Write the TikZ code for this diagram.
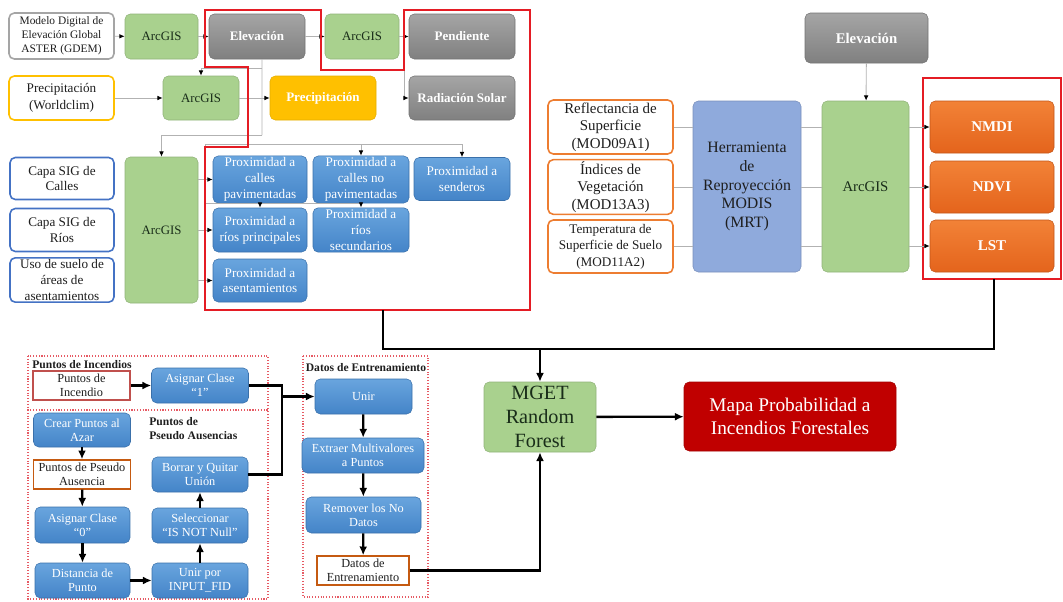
\documentclass[tikz,border=0pt]{standalone}
\usepackage{fontspec}
\setmainfont{Liberation Serif}
\usetikzlibrary{arrows.meta,calc}
\definecolor{arcgreen}{RGB}{169,209,142}
\definecolor{arctext}{RGB}{25,45,25}
\definecolor{grayT}{RGB}{165,165,165}
\definecolor{grayB}{RGB}{128,128,128}
\definecolor{precipY}{RGB}{255,192,0}
\definecolor{blueT}{RGB}{105,165,222}
\definecolor{blueB}{RGB}{68,132,200}
\definecolor{orangeT}{RGB}{242,130,55}
\definecolor{orangeB}{RGB}{228,100,28}
\definecolor{mrtblue}{RGB}{143,170,220}
\definecolor{mapred}{RGB}{192,0,0}
\definecolor{redline}{RGB}{228,28,36}
\definecolor{capablue}{RGB}{68,114,196}
\definecolor{obord}{RGB}{237,125,49}
\definecolor{gdembord}{RGB}{165,165,165}
\definecolor{pincbord}{RGB}{192,80,77}
\definecolor{pseudobord}{RGB}{197,90,17}
\definecolor{dotred}{RGB}{230,90,100}
\definecolor{txt}{RGB}{30,30,30}
\tikzset{
  base/.style={rounded corners=3pt, align=center, inner sep=1pt},
  sz/.style 2 args={minimum width=#1*0.02cm, minimum height=#2*0.02cm},
  wbox/.style={base, fill=white, draw=#1, line width=0.9pt, text=txt},
  greenbox/.style={base, fill=arcgreen, draw=arcgreen!85!black, line width=0.3pt, text=arctext},
  graybox/.style={base, top color=grayT, bottom color=grayB, draw=grayB!90!black, line width=0.3pt, text=white, font=\bfseries\fontsize{7.4}{9}\selectfont},
  bluebox/.style={base, top color=blueT, bottom color=blueB, draw=blueB!85!black, line width=0.3pt, text=white},
  orangebox/.style={base, top color=orangeT, bottom color=orangeB, draw=orangeB!85!black, line width=0.3pt, text=white, font=\bfseries\fontsize{8.5}{10}\selectfont},
  sqbox/.style={align=center, inner sep=1pt, fill=white, draw=#1, line width=0.8pt, text=txt},
  gline/.style={draw=gray!60, line width=0.5pt},
  garr/.style={gline, -{Latex[length=3pt,width=2.6pt,color=black]}},
  bline/.style={draw=black, line width=1.3pt},
  barr/.style={bline, -{Latex[length=5pt,width=4.5pt]}},
  grp/.style={draw=dotred, densely dotted, line width=0.6pt},
  redbox/.style={draw=redline, line width=1.4pt},
  fa/.style={font=\fontsize{6.5}{8}\selectfont},
  fb/.style={font=\fontsize{7.5}{9}\selectfont},
  fc/.style={font=\fontsize{7}{8.2}\selectfont},
  lab/.style={font=\bfseries\fontsize{6.6}{8}\selectfont, text=txt, inner sep=0pt},
}
\begin{document}
\begin{tikzpicture}[x=0.02cm, y=-0.02cm]
\useasboundingbox (0,0) rectangle (1063,602);
% ---------------- top left ----------------
\node[wbox=gdembord, sz={105}{46}, fa] (gdem) at (61.5,36) {Modelo Digital de\\Elevación Global\\ASTER (GDEM)};
\node[greenbox, sz={73}{45}, font=\fontsize{7.3}{9}\selectfont] (arc1) at (161.5,36.5) {ArcGIS};
\node[graybox, sz={96}{45}] (elev1) at (257,36.5) {Elevación};
\node[greenbox, sz={74}{45}, font=\fontsize{7.3}{9}\selectfont] (arc2) at (362,36.5) {ArcGIS};
\node[graybox, sz={106}{45}] (pend) at (462,36.5) {Pendiente};
\node[wbox=precipY, sz={105}{44}, font=\fontsize{7.5}{9.5}\selectfont] (wclim) at (61.5,98) {Precipitación\\(Worldclim)};
\node[greenbox, sz={76}{44}, font=\fontsize{7.3}{9}\selectfont] (arc3) at (201,98) {ArcGIS};
\node[base, fill=precipY, draw=precipY!90!black, line width=0.3pt, text=white, font=\bfseries\fontsize{7.4}{9}\selectfont, sz={106}{44}] (precip) at (323,98) {Precipitación};
\node[graybox, sz={106}{44}] (rad) at (462,98) {Radiación Solar};

\node[wbox=capablue, sz={104}{42}, fb] (calles) at (62,178.5) {Capa SIG de\\Calles};
\node[wbox=capablue, sz={104}{43}, fb] (rios) at (62,230) {Capa SIG de\\Ríos};
\node[wbox=capablue, sz={104}{44}, fb] (uso) at (62,280) {Uso de suelo de\\áreas de\\asentamientos};
\node[greenbox, sz={73}{146}, font=\fontsize{7.3}{9}\selectfont] (arc4) at (161.5,230) {ArcGIS};

\node[bluebox, sz={94}{43}, fb] (pav) at (260,179.5) {Proximidad a\\calles\\pavimentadas};
\node[bluebox, sz={96}{43}, fb] (nopav) at (361,179.5) {Proximidad a\\calles no\\pavimentadas};
\node[bluebox, sz={96}{43}, fb] (send) at (462,179) {Proximidad a\\senderos};
\node[bluebox, sz={94}{44}, fb] (rprin) at (260,230) {Proximidad a\\ríos principales};
\node[bluebox, sz={96}{44}, fb] (rsec) at (361,230) {Proximidad a\\ríos\\secundarios};
\node[bluebox, sz={94}{43}, fb] (asent) at (260,280.5) {Proximidad a\\asentamientos};

% connectors top-left
\draw[garr] (gdem) -- (arc1);
\draw[garr] (arc1) -- (elev1);
\draw[garr] (elev1) -- (arc2);
\draw[garr] (arc2) -- (pend);
\draw[garr] (arc2.east) -- ++(5,0) |- (rad.west);
\draw[garr] (wclim) -- (arc3);
\draw[garr] (arc3) -- (precip);
\coordinate (j1) at (262,68);
\coordinate (j2) at (262,135);
\draw[gline] ([xshift=0.1cm]elev1.south) -- (j2);
\draw[garr] (j1) -| (arc3.north);
\draw[garr] (j2) -| (arc4.north);
\coordinate (h1) at (205,144);
\coordinate (h2) at (205,203);
\draw[garr] (arc4.east |- pav) -- (pav.west);
\draw[garr] (arc4.east |- rprin) -- (rprin.west);
\draw[garr] (arc4.east |- asent) -- (asent.west);
\draw[gline] (h1) -- (h2);
\draw[gline] (h1) -- (send.north |- h1);
\draw[garr] (nopav.north |- h1) -- (nopav.north);
\draw[garr] (send.north |- h1) -- (send.north);
\draw[gline] (h2) -- (rsec.north |- h2);
\draw[garr] (rprin.north |- h2) -- (rprin.north);
\draw[garr] (rsec.north |- h2) -- (rsec.north);

% red outline top-left
\draw[redbox] (205,10) -- (321,10) -- (321,70) -- (404,70) -- (404,10) -- (530,10) -- (530,310) -- (205,310) -- (205,147) -- (248,147) -- (248,67) -- (205,67) -- cycle;

% ---------------- top right ----------------
\node[graybox, sz={123}{50}, font=\bfseries\fontsize{8.4}{10}\selectfont] (elev2) at (866.5,38) {Elevación};
\node[wbox=obord, sz={125}{54}, font=\fontsize{8.5}{10}\selectfont] (refl) at (610.5,127) {Reflectancia de\\Superficie\\(MOD09A1)};
\node[wbox=obord, sz={125}{52}, font=\fontsize{8.5}{10}\selectfont] (indsrc) at (610.5,187) {Índices de\\Vegetación\\(MOD13A3)};
\node[wbox=obord, sz={125}{53}, font=\fontsize{7.5}{9.3}\selectfont] (temp) at (610.5,246.5) {Temperatura de\\Superficie de Suelo\\(MOD11A2)};
\node[base, fill=mrtblue, draw=mrtblue!85!black, line width=0.3pt, text=txt, sz={108}{171}, font=\fontsize{9}{10.6}\selectfont] (mrt) at (747,186.5) {Herramienta\\de\\Reproyección\\MODIS\\(MRT)};
\node[greenbox, sz={87}{171}, font=\fontsize{8.4}{10}\selectfont] (arc5) at (865.5,186.5) {ArcGIS};
\node[orangebox, sz={124}{52}] (nmdi) at (992,127) {NMDI};
\node[orangebox, sz={124}{52}] (ndvi) at (992,187) {NDVI};
\node[orangebox, sz={124}{52}] (lst) at (992,246) {LST};
\draw[redbox] (923,78) rectangle (1061,279);

\draw[gline] (refl.east) -- (mrt.west |- refl);
\draw[gline] (indsrc.east) -- (mrt.west |- indsrc);
\draw[gline] (temp.east) -- (mrt.west |- temp);
\draw[gline] (mrt.east |- refl) -- (arc5.west |- refl);
\draw[gline] (mrt.east |- indsrc) -- (arc5.west |- indsrc);
\draw[gline] (mrt.east |- temp) -- (arc5.west |- temp);
\draw[garr] (arc5.east |- nmdi) -- (nmdi.west);
\draw[garr] (arc5.east |- ndvi) -- (ndvi.west);
\draw[garr] (arc5.east |- lst) -- (lst.west);
\draw[garr] (elev2) -- (arc5);

% ---------------- bottom right ----------------
\node[base, fill=arcgreen, draw=arcgreen!85!black, line width=0.3pt, text=arctext, sz={112}{70}, font=\fontsize{11.5}{13.5}\selectfont] (mget) at (540,417) {MGET\\Random\\Forest};
\node[base, fill=mapred, draw=mapred!85!black, line width=0.3pt, text=white, sz={212}{69}, font=\fontsize{11}{12.8}\selectfont] (mapa) at (790,416.5) {Mapa Probabilidad a\\Incendios Forestales};

\coordinate (rb1) at (383,310);
\coordinate (rb2) at (994,279);
\coordinate (bus) at (540,349);
\draw[bline] (rb1) |- (bus);
\draw[bline] (rb2) |- (bus);
\draw[barr] (bus) -- (mget.north);
\draw[barr] (mget) -- (mapa);

% ---------------- bottom left ----------------
\draw[grp] (28,356) rectangle (268,410);
\draw[grp] (28,410) rectangle (268,599);
\draw[grp] (303,356) rectangle (428,597);
\node[lab, anchor=west] (lbinc) at (32,365) {Puntos de Incendios};
\node[lab, anchor=north west, align=left] (lbpse) at (149,417) {Puntos de\\Pseudo Ausencias};
\node[lab] (lbdat) at (366,368) {Datos de Entrenamiento};

\node[sqbox=pincbord, sz={97}{29}, fc] (pinc) at (81.5,385.5) {Puntos de\\Incendio};
\node[bluebox, sz={97}{35}, fc] (as1) at (200,385.5) {Asignar Clase\\“1”};
\node[bluebox, sz={97}{34}, fc] (crear) at (82,430) {Crear Puntos al\\Azar};
\node[sqbox=pseudobord, sz={97}{29}, fc] (pseudo) at (82,474.5) {Puntos de Pseudo\\Ausencia};
\node[bluebox, sz={95}{36}, fc] (as0) at (82.5,525) {Asignar Clase\\“0”};
\node[bluebox, sz={95}{35}, fc] (dist) at (82.5,580.5) {Distancia de\\Punto};
\node[bluebox, sz={96}{35}, fc] (unirpor) at (200,580.5) {Unir por\\INPUT\_FID};
\node[bluebox, sz={96}{35}, fc] (selec) at (200,525.5) {Seleccionar\\“IS NOT Null”};
\node[bluebox, sz={96}{35}, fc] (borrar) at (200,474.5) {Borrar y Quitar\\Unión};
\node[bluebox, sz={97}{35}, fc] (unir) at (363.5,396.5) {Unir};
\node[bluebox, sz={122}{35}, fc] (extr) at (363,455.5) {Extraer Multivalores\\a Puntos};
\node[bluebox, sz={115}{36}, fc] (remov) at (363.5,515) {Remover los No\\Datos};
\node[sqbox=pseudobord, sz={92}{29}, fc] (datos) at (363,570.5) {Datos de\\Entrenamiento};

\draw[barr] (pinc) -- (as1);
\draw[barr] (crear) -- (pseudo);
\draw[barr] (pseudo) -- (as0);
\draw[barr] (as0) -- (dist);
\draw[barr] (dist) -- (unirpor);
\draw[barr] (unirpor) -- (selec);
\draw[barr] (selec) -- (borrar);
\coordinate (m1) at (282,396.5);
\draw[bline] (as1.east) -| (m1);
\draw[bline] (borrar.east) -| (m1);
\draw[barr] (m1) -- (unir.west);
\draw[barr] (unir) -- (extr);
\draw[barr] (extr) -- (remov);
\draw[barr] (remov) -- (datos);
\draw[barr] (datos.east) -| (mget.south);
\end{tikzpicture}
\end{document}
